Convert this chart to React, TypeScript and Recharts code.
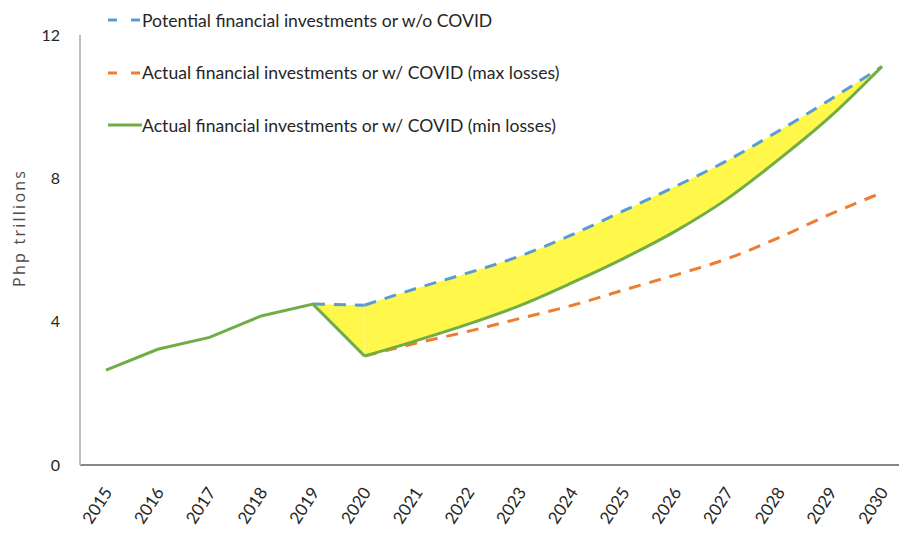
import React from "react";
import {
  ComposedChart, Line, Area, XAxis, YAxis,
} from "recharts";

const years = [
  "2015", "2016", "2017", "2018", "2019", "2020", "2021", "2022",
  "2023", "2024", "2025", "2026", "2027", "2028", "2029", "2030",
];
// Php trillions
const minLosses = [2.65, 3.23, 3.56, 4.16, 4.49, 3.04, 3.47, 3.93, 4.45, 5.08, 5.76, 6.52, 7.42, 8.52, 9.72, 11.12];
const potential = [null, null, null, null, 4.49, 4.46, 4.93, 5.36, 5.83, 6.42, 7.09, 7.77, 8.49, 9.32, 10.2, 11.12];
const maxLosses = [null, null, null, null, null, 3.04, 3.4, 3.73, 4.09, 4.45, 4.88, 5.3, 5.75, 6.34, 7.0, 7.6];
const yTicks = [0, 4, 8, 12];

const LAST_PRE = 4; // 2019
const COVID = 5; // 2020

const legendItems = [
  { label: "Potential financial investments or w/o COVID", color: "#5B9BD5", dashed: true },
  { label: "Actual financial investments or w/ COVID (max losses)", color: "#ED7D31", dashed: true },
  { label: "Actual financial investments or w/ COVID (min losses)", color: "#70AD47", dashed: false },
];

const data = years.map((year, i) => {
  const bridge = i >= LAST_PRE && i <= COVID;
  const proj = i >= COVID;
  return {
    year,
    minHist: i <= COVID ? minLosses[i] : null,
    minProj: proj ? minLosses[i] : null,
    potBridge: bridge ? potential[i] : null,
    potProj: proj ? potential[i] : null,
    maxProj: maxLosses[i],
    gapBridge: bridge ? [minLosses[i], potential[i]] : null,
    gapProj: proj ? [minLosses[i], potential[i]] : null,
  };
});

const FONT = "Lato, 'Open Sans', sans-serif";

const YearTick = ({ x, y, payload }: any) => (
  <g transform={`translate(${x + 2},${y + 16})`}>
    <text transform="rotate(-57)" textAnchor="end" dy="0.35em" fontSize={17} fill="#262626" fontFamily={FONT}>
      {payload.value}
    </text>
  </g>
);

const AxisTitle = ({ viewBox }: any) => (
  <text
    transform={`translate(19,${viewBox.y + viewBox.height / 2 - 21}) rotate(-90)`}
    textAnchor="middle"
    dominantBaseline="central"
    fontSize={16}
    textLength={116}
    lengthAdjust="spacing"
    fill="#4d4d4d"
    fontFamily="'Open Sans', sans-serif"
  >
    Php trillions
  </text>
);

function ChartLegend() {
  return (
    <div style={{ position: "absolute", left: 104, top: 8, fontFamily: FONT, fontSize: 17.6, color: "#262626" }}>
      {legendItems.map((item) => (
        <div key={item.label} style={{ display: "flex", alignItems: "center", height: 24, marginBottom: 28.5 }}>
          <svg width={38} height={10}>
            <line
              x1={4} y1={5} x2={38} y2={5}
              stroke={item.color}
              strokeWidth={3}
              strokeDasharray={item.dashed ? "9 14" : undefined}
            />
          </svg>
          <span style={{ whiteSpace: "nowrap" }}>{item.label}</span>
        </div>
      ))}
    </div>
  );
}

export default function App() {
  return (
    <div style={{ position: "absolute", left: 0, top: 0, width: 899, height: 538, overflow: "hidden", background: "#fff" }}>
      <ComposedChart width={910} height={538} data={data} margin={{ top: 35, right: 2, bottom: 0, left: 0 }}>
        <XAxis
          dataKey="year"
          interval={0}
          tickLine={false}
          height={73}
          padding={{ left: 26, right: 26 }}
          axisLine={{ stroke: "#868686", strokeWidth: 2 }}
          tick={<YearTick />}
        />
        <YAxis
          width={80}
          domain={[0, 12]}
          ticks={yTicks}
          tickLine={false}
          tickSize={0}
          tickMargin={20}
          axisLine={{ stroke: "#BFBFBF", strokeWidth: 2 }}
          tick={{ fontSize: 16, fill: "#262626", fontFamily: FONT }}
          label={<AxisTitle />}
        />
        <Area dataKey="gapBridge" type="linear" fill="#FFF84A" fillOpacity={1} stroke="none" isAnimationActive={false} />
        <Area dataKey="gapProj" type="monotone" fill="#FFF84A" fillOpacity={1} stroke="none" isAnimationActive={false} />
        <Line dataKey="maxProj" type="monotone" stroke="#ED7D31" strokeWidth={3} strokeDasharray="12 9" dot={false} isAnimationActive={false} />
        <Line dataKey="potBridge" type="linear" stroke="#5B9BD5" strokeWidth={3} strokeDasharray="12 9" dot={false} isAnimationActive={false} />
        <Line dataKey="potProj" type="monotone" stroke="#5B9BD5" strokeWidth={3} strokeDasharray="12 9" dot={false} isAnimationActive={false} />
        <Line dataKey="minHist" type="linear" stroke="#70AD47" strokeWidth={3} dot={false} isAnimationActive={false} />
        <Line dataKey="minProj" type="monotone" stroke="#70AD47" strokeWidth={3} dot={false} isAnimationActive={false} />
      </ComposedChart>
      <ChartLegend />
    </div>
  );
}
